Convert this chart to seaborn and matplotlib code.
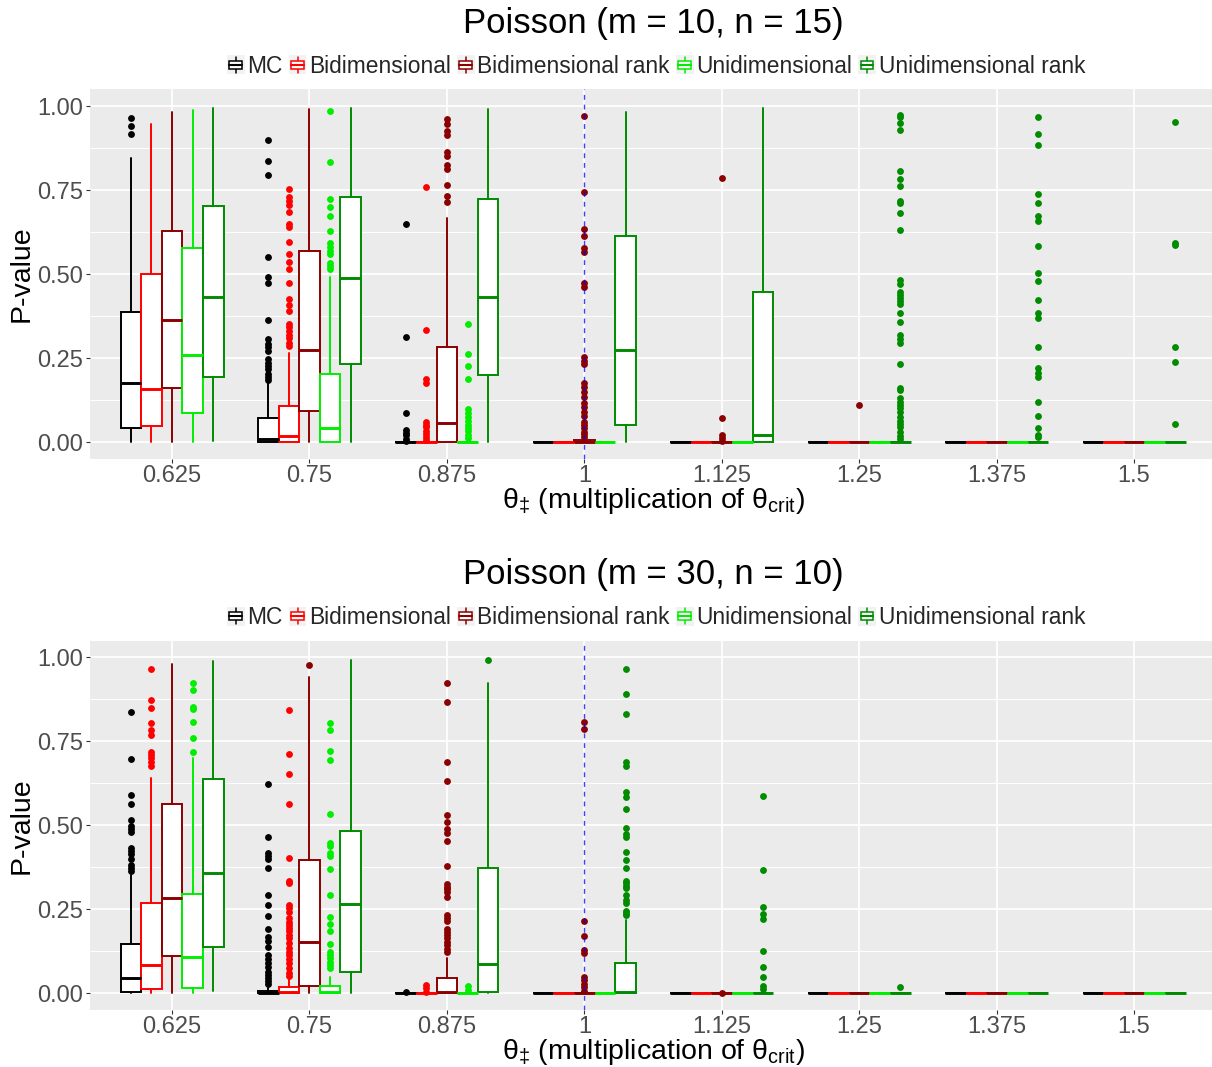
import numpy as np
import matplotlib
matplotlib.use("Agg")
import matplotlib.pyplot as plt
import matplotlib.patches as mpatches
from matplotlib.lines import Line2D
from matplotlib.legend_handler import HandlerBase
import seaborn as sns

# ---------------------------------------------------------------- data
CATEGORIES = ["0.625", "0.75", "0.875", "1", "1.125", "1.25", "1.375", "1.5"]
METHODS = ["MC", "Bidimensional", "Bidimensional rank", "Unidimensional", "Unidimensional rank"]
COLORS = ["#000000", "#FF0000", "#8B0000", "#00EE00", "#008B00"]

# Poisson (m = 10, n = 15): rows follow METHODS, columns follow CATEGORIES
A_Q1 = [
    [0.042, 0.000, 0, 0, 0, 0, 0, 0],
    [0.048, 0.000, 0, 0, 0, 0, 0, 0],
    [0.162, 0.092, 0, 0, 0, 0, 0, 0],
    [0.087, 0.000, 0, 0, 0, 0, 0, 0],
    [0.193, 0.232, 0.200, 0.050, 0, 0, 0, 0],
]
A_MED = [
    [0.177, 0.009, 0, 0, 0, 0, 0, 0],
    [0.158, 0.018, 0, 0, 0, 0, 0, 0],
    [0.363, 0.275, 0.058, 0, 0, 0, 0, 0],
    [0.259, 0.042, 0, 0, 0, 0, 0, 0],
    [0.432, 0.487, 0.433, 0.275, 0.020, 0, 0, 0],
]
A_Q3 = [
    [0.387, 0.071, 0, 0, 0, 0, 0, 0],
    [0.501, 0.108, 0, 0, 0, 0, 0, 0],
    [0.627, 0.567, 0.282, 0.006, 0, 0, 0, 0],
    [0.578, 0.201, 0, 0, 0, 0, 0, 0],
    [0.702, 0.728, 0.724, 0.614, 0.446, 0, 0, 0],
]
A_LOW = [
    [0, 0, 0, 0, 0, 0, 0, 0],
    [0, 0, 0, 0, 0, 0, 0, 0],
    [0, 0, 0, 0, 0, 0, 0, 0],
    [0, 0, 0, 0, 0, 0, 0, 0],
    [0.003, 0, 0, 0, 0, 0, 0, 0],
]
A_HIGH = [
    [0.844, 0.175, 0, 0, 0, 0, 0, 0],
    [0.947, 0.264, 0, 0, 0, 0, 0, 0],
    [0.982, 0.992, 0.666, 0.006, 0, 0, 0, 0],
    [0.987, 0.490, 0, 0, 0, 0, 0, 0],
    [0.993, 0.993, 0.990, 0.983, 0.993, 0, 0, 0],
]
# outliers keyed by category index
A_OUT_MC = {
    0: [0.964, 0.941, 0.918],
    1: [0.899, 0.835, 0.794, 0.550, 0.492, 0.472, 0.364, 0.306, 0.292, 0.282,
        0.272, 0.246, 0.236, 0.226, 0.216, 0.202, 0.192, 0.185],
    2: [0.648, 0.313, 0.085, 0.036, 0.028, 0.020, 0.010, 0.004],
}
A_OUT_BI = {
    1: [0.753, 0.728, 0.716, 0.704, 0.685, 0.649, 0.639, 0.594, 0.561, 0.536, 0.516,
        0.474, 0.425, 0.408, 0.391, 0.351, 0.341, 0.331, 0.319, 0.309, 0.296, 0.286],
    2: [0.760, 0.333, 0.187, 0.175, 0.060, 0.052, 0.044, 0.034, 0.024, 0.014, 0.006],
}
A_OUT_BIR = {
    2: [0.962, 0.946, 0.925, 0.913, 0.862, 0.851, 0.825, 0.812, 0.766, 0.732, 0.713],
    3: [0.970, 0.744, 0.634, 0.614, 0.578, 0.566, 0.474, 0.462, 0.254, 0.242, 0.232,
        0.175, 0.163, 0.150, 0.133, 0.115, 0.103, 0.089, 0.077, 0.060, 0.051, 0.041,
        0.031, 0.023, 0.016],
    4: [0.786, 0.072, 0.021, 0.011, 0.003],
    5: [0.110],
}
A_OUT_UNI = {
    1: [0.984, 0.832, 0.723, 0.699, 0.674, 0.629, 0.591, 0.581, 0.569, 0.561, 0.534,
        0.525, 0.516],
    2: [0.352, 0.262, 0.226, 0.187, 0.097, 0.085, 0.073, 0.062, 0.052, 0.042, 0.032,
        0.022, 0.012],
}
A_OUT_UNIR = {
    5: [0.972, 0.966, 0.948, 0.929, 0.806, 0.782, 0.761, 0.718, 0.710, 0.682, 0.630,
        0.482, 0.470, 0.446, 0.437, 0.429, 0.420, 0.410, 0.383, 0.356, 0.318, 0.306,
        0.296, 0.232, 0.162, 0.155, 0.130, 0.120, 0.110, 0.100, 0.088, 0.075, 0.063,
        0.054, 0.044, 0.030, 0.018, 0.008],
    6: [0.967, 0.918, 0.883, 0.739, 0.712, 0.674, 0.658, 0.582, 0.502, 0.480, 0.424,
        0.385, 0.370, 0.282, 0.221, 0.206, 0.192, 0.118, 0.078, 0.043, 0.021, 0.016],
    7: [0.953, 0.593, 0.585, 0.282, 0.239, 0.055],
}

# Poisson (m = 30, n = 10)
B_Q1 = [
    [0.004, 0, 0, 0, 0, 0, 0, 0],
    [0.013, 0, 0, 0, 0, 0, 0, 0],
    [0.112, 0.020, 0, 0, 0, 0, 0, 0],
    [0.015, 0, 0, 0, 0, 0, 0, 0],
    [0.138, 0.062, 0.005, 0, 0, 0, 0, 0],
]
B_MED = [
    [0.044, 0.002, 0, 0, 0, 0, 0, 0],
    [0.083, 0.005, 0, 0, 0, 0, 0, 0],
    [0.282, 0.151, 0.005, 0, 0, 0, 0, 0],
    [0.109, 0.003, 0, 0, 0, 0, 0, 0],
    [0.359, 0.266, 0.087, 0.003, 0, 0, 0, 0],
]
B_Q3 = [
    [0.145, 0.008, 0, 0, 0, 0, 0, 0],
    [0.268, 0.019, 0, 0, 0, 0, 0, 0],
    [0.564, 0.397, 0.046, 0, 0, 0, 0, 0],
    [0.294, 0.020, 0, 0, 0, 0, 0, 0],
    [0.637, 0.482, 0.374, 0.089, 0, 0, 0, 0],
]
B_LOW = [
    [0, 0, 0, 0, 0, 0, 0, 0],
    [0, 0, 0, 0, 0, 0, 0, 0],
    [0, 0, 0, 0, 0, 0, 0, 0],
    [0, 0, 0, 0, 0, 0, 0, 0],
    [0.007, 0, 0, 0, 0, 0, 0, 0],
]
B_HIGH = [
    [0.352, 0.016, 0, 0, 0, 0, 0, 0],
    [0.642, 0.042, 0, 0, 0, 0, 0, 0],
    [0.979, 0.940, 0.106, 0, 0, 0, 0, 0],
    [0.699, 0.048, 0, 0, 0, 0, 0, 0],
    [0.990, 0.992, 0.923, 0.218, 0, 0, 0, 0],
]
B_OUT_MC = {
    0: [0.838, 0.696, 0.589, 0.563, 0.516, 0.498, 0.488, 0.480, 0.431, 0.423, 0.415,
        0.401, 0.383, 0.373, 0.365],
    1: [0.624, 0.464, 0.417, 0.409, 0.401, 0.373, 0.293, 0.263, 0.230, 0.192, 0.166,
        0.154, 0.139, 0.115, 0.101, 0.089, 0.077, 0.064, 0.055, 0.045, 0.035, 0.028],
    2: [0.003],
}
B_OUT_BI = {
    0: [0.964, 0.872, 0.849, 0.803, 0.784, 0.769, 0.719, 0.709, 0.699, 0.688, 0.675],
    1: [0.844, 0.712, 0.654, 0.562, 0.402, 0.335, 0.329, 0.263, 0.253, 0.243, 0.223,
        0.213, 0.203, 0.193, 0.184, 0.174, 0.164, 0.149, 0.134, 0.124, 0.114, 0.101,
        0.091, 0.074, 0.060, 0.052],
    2: [0.025, 0.015, 0.005],
}
B_OUT_BIR = {
    1: [0.978],
    2: [0.923, 0.866, 0.687, 0.633, 0.530, 0.510, 0.490, 0.478, 0.452, 0.378, 0.324,
        0.317, 0.310, 0.300, 0.286, 0.232, 0.224, 0.216, 0.192, 0.183, 0.173, 0.163,
        0.153, 0.143, 0.133, 0.123],
    3: [0.808, 0.787, 0.214, 0.171, 0.129, 0.119, 0.048, 0.038, 0.028, 0.018, 0.008],
    4: [0.002],
}
B_OUT_UNI = {
    0: [0.923, 0.903, 0.851, 0.846, 0.808, 0.761, 0.719],
    1: [0.805, 0.784, 0.720, 0.694, 0.533, 0.448, 0.437, 0.417, 0.407, 0.369, 0.291,
        0.226, 0.205, 0.184, 0.146, 0.124, 0.114, 0.104, 0.094, 0.084, 0.074],
    2: [0.020, 0.010],
}
B_OUT_UNIR = {
    2: [0.992],
    3: [0.966, 0.890, 0.830, 0.689, 0.675, 0.600, 0.584, 0.549, 0.493, 0.474, 0.466,
        0.421, 0.397, 0.372, 0.335, 0.327, 0.319, 0.312, 0.293, 0.276, 0.268, 0.246,
        0.238, 0.232],
    4: [0.586, 0.367, 0.258, 0.236, 0.222, 0.126, 0.077, 0.047, 0.020, 0.012],
    5: [0.017],
}

# ---------------------------------------------------------------- style
sns.set_theme(style="darkgrid")
plt.rcParams["font.family"] = ["Liberation Sans", "DejaVu Sans"]
plt.rcParams["mathtext.fontset"] = "custom"
plt.rcParams["mathtext.rm"] = "Liberation Sans"
plt.rcParams["mathtext.it"] = "Liberation Sans:italic"
plt.rcParams["mathtext.bf"] = "Liberation Sans:bold"

W, H = 1212, 1067
fig = plt.figure(figsize=(W / 100, H / 100), dpi=100)
fig.patch.set_facecolor("white")


def px_rect(left, top, right, bottom):
    return [left / W, 1 - bottom / H, (right - left) / W, (bottom - top) / H]


class BoxKey(HandlerBase):
    """Small boxplot glyph used as legend key."""

    def create_artists(self, legend, orig_handle, xdescent, ydescent,
                       width, height, fontsize, trans):
        c = orig_handle.get_edgecolor()
        x0, y0 = -xdescent, -ydescent
        bg = mpatches.Rectangle((x0, y0), width, height, facecolor="#F2F2F2",
                                edgecolor="none", transform=trans)
        cx = x0 + width / 2
        whisk = Line2D([cx, cx], [y0 + 0.08 * height, y0 + 0.92 * height],
                       color=c, lw=1.1, transform=trans)
        box = mpatches.Rectangle((x0 + 0.14 * width, y0 + 0.28 * height),
                                 0.72 * width, 0.44 * height, facecolor="white",
                                 edgecolor=c, lw=1.1, transform=trans)
        med = Line2D([x0 + 0.14 * width, x0 + 0.86 * width],
                     [y0 + 0.5 * height] * 2, color=c, lw=1.5, transform=trans)
        return [bg, whisk, box, med]


def draw_panel(ax, q1, med, q3, low, high, outliers, title, top_px):
    n_m = len(METHODS)
    dodge = 0.75 / n_m
    x = np.arange(len(CATEGORIES))
    for m in range(n_m):
        c = COLORS[m]
        stats = []
        for k in range(len(CATEGORIES)):
            stats.append(dict(q1=q1[m][k], med=med[m][k], q3=q3[m][k],
                              whislo=low[m][k], whishi=high[m][k],
                              fliers=outliers[m].get(k, [])))
        ax.bxp(stats, positions=x + (m - (n_m - 1) / 2) * dodge, widths=dodge,
               patch_artist=True, showcaps=False, manage_ticks=False,
               boxprops=dict(facecolor="white", edgecolor=c, linewidth=1.4),
               whiskerprops=dict(color=c, linewidth=1.4),
               medianprops=dict(color=c, linewidth=2.1, solid_capstyle="butt"),
               flierprops=dict(marker="o", markerfacecolor=c, markeredgecolor=c,
                               markersize=3.9, linestyle="none"),
               zorder=3)
    ax.axvline(3, color="blue", alpha=0.75, lw=1.0, ls=(0, (3.5, 3.5)), zorder=6)

    ax.set_facecolor("#EBEBEB")
    for s in ax.spines.values():
        s.set_visible(False)
    ax.set_xlim(-0.6, len(CATEGORIES) - 0.4)
    ax.set_ylim(-0.05, 1.05)
    ax.set_xticks(x)
    ax.set_xticklabels(CATEGORIES)
    ax.set_yticks([0, 0.25, 0.5, 0.75, 1.0])
    ax.set_yticklabels(["0.00", "0.25", "0.50", "0.75", "1.00"])
    ax.set_yticks([0.125, 0.375, 0.625, 0.875], minor=True)
    ax.grid(True, which="major", color="white", lw=1.25)
    ax.grid(True, which="minor", axis="y", color="white", lw=0.65)
    ax.grid(False, which="minor", axis="x")
    ax.set_axisbelow(True)
    ax.tick_params(which="major", bottom=True, left=True, length=3.0, width=0.8,
                   color="#333333", labelcolor="#4D4D4D", labelsize=17, pad=1.5)
    ax.tick_params(which="minor", length=0)
    ax.set_ylabel("P-value", fontsize=20.5, color="black", labelpad=2)
    ax.set_xlabel(r"$\mathrm{\theta_{\ddagger}}$ (multiplication of $\mathrm{\theta_{crit}}$)",
                  fontsize=20.5, color="black", labelpad=-1)

    fig.text(653 / W, 1 - (top_px - 56.5) / H, title, ha="center", va="baseline",
             fontsize=25, color="black")
    handles = [mpatches.Patch(facecolor="white", edgecolor=c) for c in COLORS]
    fig.legend(handles, METHODS, loc="center", ncol=len(METHODS),
               bbox_to_anchor=(656 / W, 1 - (top_px - 23) / H), frameon=False,
               fontsize=16.4, handlelength=0.78, handleheight=0.92,
               handletextpad=0.12, columnspacing=0.26, borderpad=0,
               borderaxespad=0, handler_map={mpatches.Patch: BoxKey()})


ax1 = fig.add_axes(px_rect(89.6, 89.2, 1216.5, 458.8))
draw_panel(ax1, A_Q1, A_MED, A_Q3, A_LOW, A_HIGH,
           [A_OUT_MC, A_OUT_BI, A_OUT_BIR, A_OUT_UNI, A_OUT_UNIR],
           "Poisson (m = 10, n = 15)", 89.2)

ax2 = fig.add_axes(px_rect(89.6, 640.5, 1216.5, 1010.0))
draw_panel(ax2, B_Q1, B_MED, B_Q3, B_LOW, B_HIGH,
           [B_OUT_MC, B_OUT_BI, B_OUT_BIR, B_OUT_UNI, B_OUT_UNIR],
           "Poisson (m = 30, n = 10)", 640.5)

fig.savefig("out.png", dpi=100, facecolor="white")
